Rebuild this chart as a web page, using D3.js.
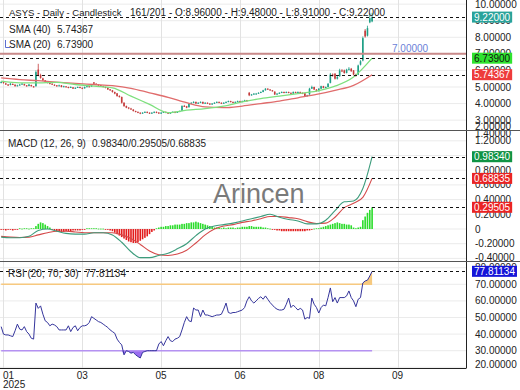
<!DOCTYPE html>
<html>
<head>
<meta charset="utf-8">
<script src="https://cdn.jsdelivr.net/npm/d3@7"></script>
<style>
body { margin: 0; background: #fff; }
svg { display: block; font-family: "Liberation Sans", Arial, sans-serif; }
</style>
</head>
<body>
<div id="chart"></div>
<script>
const W = 520, H = 390;
const plotW = 466;

// --- Data ---
const tickDays = [1, 35, 69, 103, 137, 171];
const tickLabels = ["01", "03", "05", "06", "08", "09"];
const priceTicks = [2, 3, 4, 5, 6, 7, 8, 9, 10];
const macdTicks = [-0.4, -0.2, 0, 0.2, 0.4, 0.6, 0.8, 1.0, 1.2, 1.4];
const rsiTicks = [20, 30, 40, 50, 60, 70, 80];

// daily candles [open, high, low, close]
const ohlc = [
  [5.25,5.35,5.22,5.30],[5.30,5.32,5.20,5.25],[5.22,5.26,5.12,5.15],[5.15,5.18,5.06,5.10],[5.12,5.24,5.10,5.20],
  [5.18,5.22,5.12,5.15],[5.14,5.16,5.02,5.05],[5.06,5.14,5.04,5.10],[5.10,5.18,5.08,5.15],[5.16,5.24,5.14,5.20],
  [5.18,5.20,5.08,5.10],[5.10,5.12,5.02,5.05],[5.06,5.18,5.04,5.15],[5.12,5.14,5.02,5.05],[5.04,5.06,4.96,5.00],
  [5.05,6.00,5.02,5.90],[6.05,6.40,5.65,5.70],[5.72,5.80,5.50,5.55],[5.52,5.56,5.36,5.40],[5.40,5.42,5.26,5.30],
  [5.30,5.34,5.22,5.25],[5.24,5.28,5.16,5.20],[5.20,5.22,5.12,5.15],[5.14,5.16,5.06,5.10],[5.10,5.12,5.02,5.05],
  [5.05,5.14,5.04,5.10],[5.10,5.12,4.98,5.00],[5.00,5.08,4.98,5.05],[5.04,5.06,4.97,5.00],[5.00,5.02,4.92,4.95],
  [4.96,5.04,4.94,5.00],[4.98,5.00,4.88,4.90],[4.90,4.98,4.88,4.95],[4.96,5.03,4.94,5.00],[5.00,5.02,4.92,4.95],
  [4.95,4.97,4.87,4.90],[4.92,5.03,4.90,5.00],[5.00,5.08,4.98,5.05],[5.05,5.07,4.97,5.00],[5.02,5.13,5.00,5.10],
  [5.28,5.30,5.15,5.20],[5.20,5.22,5.12,5.15],[5.15,5.17,5.07,5.10],[5.10,5.12,5.02,5.05],[5.06,5.08,4.97,5.00],
  [5.00,5.02,4.92,4.95],[4.95,4.97,4.82,4.85],[4.86,4.88,4.76,4.80],[4.80,4.82,4.66,4.70],[4.70,4.72,4.56,4.60],
  [4.62,4.64,4.42,4.45],[4.46,4.50,4.36,4.40],[4.40,4.42,4.00,4.05],[4.05,4.08,3.80,3.85],[3.85,3.88,3.72,3.75],
  [3.76,3.78,3.66,3.70],[3.70,3.74,3.62,3.65],[3.64,3.66,3.52,3.55],[3.55,3.57,3.47,3.50],[3.50,3.52,3.42,3.45],
  [3.45,3.47,3.36,3.40],[3.40,3.48,3.38,3.45],[3.45,3.53,3.43,3.50],[3.50,3.52,3.42,3.45],[3.45,3.47,3.37,3.40],
  [3.40,3.48,3.38,3.45],[3.44,3.53,3.42,3.50],[3.50,3.52,3.42,3.45],[3.46,3.48,3.37,3.40],[3.40,3.48,3.38,3.45],
  [3.45,3.53,3.43,3.50],[3.50,3.52,3.42,3.45],[3.45,3.47,3.37,3.40],[3.40,3.48,3.38,3.45],[3.45,3.53,3.43,3.50],
  [3.50,3.52,3.42,3.45],[3.45,3.53,3.43,3.50],[3.50,3.58,3.48,3.55],[3.56,3.90,3.54,3.85],[3.86,3.92,3.80,3.85],
  [3.84,3.86,3.72,3.75],[3.78,4.04,3.76,4.00],[4.00,4.08,3.98,4.05],[4.05,4.14,4.02,4.10],[4.10,4.12,3.97,4.00],
  [4.00,4.08,3.98,4.05],[4.05,4.13,4.03,4.10],[4.10,4.12,3.97,4.00],[4.00,4.08,3.98,4.05],[4.05,4.07,3.97,4.00],
  [4.00,4.02,3.92,3.95],[3.95,4.03,3.93,4.00],[4.00,4.08,3.98,4.05],[4.05,4.13,4.03,4.10],[4.10,4.12,4.02,4.05],
  [4.05,4.07,3.97,4.00],[4.00,4.08,3.98,4.05],[4.05,4.13,4.03,4.10],[4.10,4.18,4.08,4.15],[4.15,4.17,4.07,4.10],
  [4.10,4.12,4.02,4.05],[4.05,4.13,4.03,4.10],[4.10,4.18,4.08,4.15],[4.15,4.17,4.07,4.10],[4.10,4.18,4.08,4.15],
  [4.15,4.23,4.13,4.20],[4.20,4.22,4.12,4.15],[4.65,4.70,4.45,4.50],[4.50,4.58,4.48,4.55],[4.55,4.63,4.53,4.60],
  [4.60,4.64,4.56,4.60],[4.60,4.68,4.58,4.65],[4.65,4.73,4.63,4.70],[4.70,4.83,4.68,4.80],[4.80,4.93,4.78,4.90],
  [4.90,4.92,4.82,4.85],[4.85,4.87,4.77,4.80],[4.80,4.82,4.72,4.75],[4.72,4.74,4.52,4.55],[4.55,4.63,4.53,4.60],
  [4.60,4.68,4.58,4.65],[4.65,4.73,4.63,4.70],[4.70,4.72,4.62,4.65],[4.65,4.73,4.63,4.70],[4.70,4.72,4.62,4.65],
  [4.65,4.67,4.57,4.60],[4.60,4.73,4.58,4.70],[4.70,4.72,4.62,4.65],[4.65,4.73,4.63,4.70],[4.70,4.72,4.62,4.65],
  [4.65,4.67,4.57,4.60],[4.62,4.64,4.42,4.45],[4.45,4.53,4.43,4.50],[4.55,4.95,4.53,4.90],[4.90,5.08,4.88,5.00],
  [5.00,5.02,4.82,4.85],[4.85,4.87,4.72,4.75],[4.75,4.93,4.73,4.90],[4.90,5.08,4.88,5.05],[5.05,5.07,4.92,4.95],
  [4.95,5.03,4.93,5.00],[5.00,5.23,4.98,5.20],[5.25,5.85,5.22,5.75],[5.75,5.82,5.62,5.70],[5.80,5.84,5.45,5.50],
  [5.50,5.68,5.45,5.60],[5.65,6.10,5.62,6.00],[6.00,6.08,5.90,5.95],[6.00,6.05,5.80,5.85],[5.85,6.10,5.82,6.05],
  [6.05,6.20,6.00,6.10],[6.10,6.15,5.92,5.95],[6.00,6.02,5.70,5.75],[5.75,5.80,5.62,5.70],[5.75,6.35,5.72,6.30],
  [6.35,6.62,6.30,6.55],[6.60,8.05,6.55,7.95],[8.40,8.50,7.98,8.05],[8.10,8.70,8.05,8.55],[8.90,9.45,8.85,9.15],
  [8.96,9.48,8.91,9.22]
];

// moving averages, sampled every 8 sessions
const smaDays = [0, 8, 16, 24, 32, 40, 48, 56, 64, 72, 80, 88, 96, 104, 112, 120, 128, 136, 144, 152, 160];
const sma20 = [5.35, 5.25, 5.25, 5.28, 5.15, 5.05, 4.95, 4.45, 3.95, 3.45, 3.6, 3.7, 3.85, 4.1, 4.3, 4.45, 4.6, 4.75, 5.05, 5.6, 6.739];
const sma40 = [5.55, 5.45, 5.38, 5.3, 5.22, 5.15, 5.08, 4.92, 4.65, 4.38, 4.05, 3.8, 3.75, 3.85, 4.0, 4.15, 4.35, 4.55, 4.8, 5.1, 5.74367];

// MACD (12, 26, 9), sampled every 4 sessions
const macdDays = [0, 4, 8, 12, 16, 20, 24, 28, 32, 36, 40, 44, 48, 52, 56, 60, 64, 68, 72, 76, 80,
  84, 88, 92, 96, 100, 104, 108, 112, 116, 120, 124, 128, 132, 136, 140, 144, 148, 152, 156, 160];
const macdLine = [-0.11, -0.12, -0.12, -0.10, -0.02, 0.00, -0.03, -0.06, -0.07, -0.07, -0.05, -0.05, -0.08, -0.18,
  -0.31, -0.39, -0.39, -0.36, -0.33, -0.27, -0.20, -0.09, 0.00, 0.04, 0.06, 0.08, 0.11, 0.14, 0.17, 0.20, 0.16,
  0.13, 0.11, 0.07, 0.07, 0.12, 0.25, 0.37, 0.38, 0.55, 0.9834];
const signalLine = [-0.10, -0.11, -0.115, -0.11, -0.08, -0.05, -0.03, -0.03, -0.04, -0.05, -0.05, -0.05, -0.05, -0.08,
  -0.13, -0.21, -0.30, -0.35, -0.36, -0.34, -0.29, -0.19, -0.08, 0.00, 0.04, 0.06, 0.09, 0.11, 0.14, 0.17, 0.17,
  0.155, 0.14, 0.10, 0.075, 0.08, 0.16, 0.29, 0.35, 0.43, 0.68835];
const histogram = [
  -0.01, -0.01, -0.02, -0.01, -0.01, -0.02, -0.01, -0.01,
  0.01, 0.005, 0.01, 0.01, 0.005, 0.01, 0.01,
  0.04, 0.07, 0.09, 0.08, 0.06, 0.04, 0.02,
  -0.01, -0.02, -0.03, -0.04, -0.04, -0.04, -0.03, -0.03, -0.03, -0.02, -0.02, -0.02, -0.02, -0.01, -0.01,
  0.01, 0.01, 0.01, 0.01, 0.01, 0.005, 0.005, 0.005,
  -0.01, -0.01, -0.02,
  -0.03, -0.05, -0.07, -0.09, -0.11, -0.13, -0.15, -0.17, -0.18, -0.19, -0.19, -0.18, -0.16, -0.14, -0.12, -0.10, -0.07, -0.04, -0.02,
  0.01, 0.02, 0.03, 0.03,
  0.04, 0.04, 0.05, 0.05, 0.06, 0.06, 0.06, 0.07, 0.07, 0.08, 0.08, 0.09, 0.09, 0.10, 0.09, 0.08, 0.07, 0.06, 0.05, 0.04, 0.03, 0.02,
  0.02, 0.02, 0.01, 0.02, 0.01, 0.02, 0.02, 0.02, 0.01, 0.02, 0.02, 0.03, 0.03, 0.03, 0.04, 0.04,
  0.03, 0.03, 0.03, 0.03, 0.02, 0.02, 0.01, 0.005, -0.01, -0.01,
  -0.02, -0.02, -0.03, -0.03, -0.03, -0.03, -0.03, -0.03, -0.03, -0.03, -0.03, -0.03, -0.03, -0.02, -0.02, -0.01,
  0.005, 0.01, 0.01, 0.02, 0.03, 0.04, 0.05, 0.06, 0.07, 0.08, 0.09, 0.08, 0.07, 0.07, 0.06, 0.06, 0.05,
  0.02, 0.01, 0.02, 0.03,
  0.12, 0.17, 0.22, 0.26, 0.29505
];

// RSI (20; 70; 30), one value per session
const rsi = [
  44.5, 40, 39.5, 39.5, 39, 38.5, 42, 46, 43, 42.5, 44.5, 41.5, 40, 37.5, 37,
  58.7, 55.5, 57, 52, 48, 47, 45, 46, 45.5, 44.5, 42.5, 42.5, 42.5, 42.5, 45,
  41.5, 44, 45, 42, 44, 45, 45, 45.5, 47, 50.5, 49.5, 48.5, 47.5, 47, 46,
  45, 44, 42.5, 41.5, 40.5, 37, 35, 33.5, 27.5, 30, 29.5, 28.5, 29, 27.5, 26.5,
  25.6, 29, 29.5, 30, 30, 30, 30, 30, 34, 35.5, 33, 36, 38.5, 36, 35.5,
  37, 37.5, 38.5, 42.5, 47, 50.5, 48, 47.5, 55.7, 54.5, 54.5, 50.5, 54.5, 51.5, 51.5,
  51, 50.5, 51, 51.5, 51.5, 52, 55, 58.7, 53, 52.5, 53, 53, 53.5, 54, 54.5,
  56, 60, 62.5, 60, 58.7, 60, 61.5, 62.5, 61, 63, 61, 59, 57.5, 56, 55,
  54.5, 54.5, 55, 58, 61.7, 56, 57.5, 56, 54.5, 55.5, 54.5, 49, 50, 49.5, 61.7,
  58, 56, 52.7, 56, 57.5, 57, 62, 67.8, 59.5, 62, 58.7, 62, 62, 62, 63,
  66, 62, 60, 56.5, 61, 62, 70.8, 72, 72.5, 75, 77.81134
];

// --- Scales ---
const x = d3.scaleLinear().domain([-0.5, 200.5]).range([0, plotW]);
const yP = d3.scaleLinear().domain([5, 8]).range([87, 37.3]);
const yM = d3.scaleLinear().domain([0, 1]).range([229, 155.5]);
const yR = d3.scaleLinear().domain([30, 70]).range([350.7, 284.3]);

const panels = [
  { id: "price", top: 0, bottom: 130, y: yP, ticks: priceTicks, fmt: d => d.toFixed(5) },
  { id: "macd", top: 131, bottom: 261, y: yM, ticks: macdTicks, fmt: d => d === 0 ? "0" : d.toFixed(5) },
  { id: "rsi", top: 262, bottom: 368, y: yR, ticks: rsiTicks, fmt: d => d.toFixed(5) }
];

const svg = d3.select("#chart").append("svg")
    .attr("width", W)
    .attr("height", H);
svg.append("rect").attr("width", W).attr("height", H).attr("fill", "#fff");

const defs = svg.append("defs");
panels.forEach(p => {
  defs.append("clipPath").attr("id", "clip-" + p.id)
    .append("rect").attr("x", 0).attr("y", p.top).attr("width", plotW).attr("height", p.bottom - p.top);
});
defs.append("clipPath").attr("id", "clip-rsi-axis")
  .append("rect").attr("x", plotW).attr("y", 262).attr("width", W - plotW).attr("height", 106);

const panelG = {};
panels.forEach(p => {
  const g = svg.append("g").attr("clip-path", `url(#clip-${p.id})`);
  // grid
  g.selectAll("line.h").data(p.ticks).join("line")
    .attr("x1", 0).attr("x2", plotW)
    .attr("y1", d => p.y(d)).attr("y2", d => p.y(d))
    .attr("stroke", "#ebebeb");
  g.selectAll("line.v").data(tickDays).join("line")
    .attr("x1", d => Math.round(x(d)) + 0.5).attr("x2", d => Math.round(x(d)) + 0.5)
    .attr("y1", p.top).attr("y2", p.bottom)
    .attr("stroke", "#e2e2e2");
  panelG[p.id] = g;
});

const dashed = (g, y) => g.append("line")
  .attr("x1", 0).attr("x2", plotW).attr("y1", y).attr("y2", y)
  .attr("stroke", "#111").attr("stroke-dasharray", "3,3");

// --- Price panel ---
const pg = panelG.price;
const up = "#1e9f86", down = "#c43b3b";
const candles = pg.append("g").selectAll("g").data(ohlc).join("g");
candles.append("line")
  .attr("x1", (d, i) => x(i)).attr("x2", (d, i) => x(i))
  .attr("y1", d => yP(d[1])).attr("y2", d => yP(d[2]))
  .attr("stroke", d => d[3] >= d[0] ? up : down).attr("stroke-width", 0.8);
candles.append("rect")
  .attr("x", (d, i) => x(i) - 0.8).attr("width", 1.6)
  .attr("y", d => yP(Math.max(d[0], d[3])))
  .attr("height", d => Math.max(1, Math.abs(yP(d[0]) - yP(d[3]))))
  .attr("fill", d => d[3] >= d[0] ? up : down);

const smaLine = d3.line().x(d => x(d[0])).y(d => yP(d[1])).curve(d3.curveMonotoneX);
pg.append("path").datum(smaDays.map((d, i) => [d, sma40[i]]))
  .attr("d", smaLine).attr("fill", "none").attr("stroke", "#e06c6c").attr("stroke-width", 1.3);
pg.append("path").datum(smaDays.map((d, i) => [d, sma20[i]]))
  .attr("d", smaLine).attr("fill", "none").attr("stroke", "#7ee07e").attr("stroke-width", 1.3);

pg.append("line").attr("x1", 0).attr("x2", plotW).attr("y1", yP(7)).attr("y2", yP(7))
  .attr("stroke", "#c98a8a").attr("stroke-width", 2);
pg.append("text").attr("x", 392).attr("y", 52).attr("font-size", 10).attr("fill", "#6b7fd7").text("7.00000");

[9.22, 6.739, 5.74367].forEach(v => dashed(pg, Math.round(yP(v)) + 0.5));

// --- MACD panel ---
const mg = panelG.macd;
mg.append("text").attr("x", 213).attr("y", 203).attr("font-size", 27).attr("fill", "#7a7a7a").text("Arincen");
mg.selectAll("rect.hist").data(histogram).join("rect")
  .attr("x", (d, i) => x(i) - 0.8).attr("width", 1.6)
  .attr("y", d => yM(Math.max(0, d)))
  .attr("height", d => Math.max(0.8, Math.abs(yM(d) - yM(0))))
  .attr("fill", d => d >= 0 ? "#2bdc2b" : "#e31c1c");
const mLine = d3.line().x(d => x(d[0])).y(d => yM(d[1])).curve(d3.curveMonotoneX);
mg.append("path").datum(macdDays.map((d, i) => [d, signalLine[i]]))
  .attr("d", mLine).attr("fill", "none").attr("stroke", "#d44a4a").attr("stroke-width", 1.1);
mg.append("path").datum(macdDays.map((d, i) => [d, macdLine[i]]))
  .attr("d", mLine).attr("fill", "none").attr("stroke", "#3d9c7c").attr("stroke-width", 1.1);
[0.9834, 0.68835, 0.29505].forEach(v => dashed(mg, Math.round(yM(v)) + 0.5));

// --- RSI panel ---
const rg = panelG.rsi;
const lastDay = rsi.length - 1;
rg.append("path").datum(rsi)
  .attr("d", d3.area().x((d, i) => x(i)).y0(yR(70)).y1(d => yR(Math.max(d, 70))))
  .attr("fill", "#f6c97f");
rg.append("path").datum(rsi)
  .attr("d", d3.area().x((d, i) => x(i)).y0(yR(30)).y1(d => yR(Math.min(d, 30))))
  .attr("fill", "#9a6cf0");
rg.append("line").attr("x1", x(0)).attr("x2", x(lastDay)).attr("y1", yR(70)).attr("y2", yR(70))
  .attr("stroke", "#f7c980").attr("stroke-width", 1.5);
rg.append("line").attr("x1", x(0)).attr("x2", x(lastDay)).attr("y1", yR(30)).attr("y2", yR(30))
  .attr("stroke", "#b592f2").attr("stroke-width", 1.5);
rg.append("path").datum(rsi)
  .attr("d", d3.line().x((d, i) => x(i)).y(d => yR(d)))
  .attr("fill", "none").attr("stroke", "#35359c").attr("stroke-width", 1);
dashed(rg, Math.round(yR(77.81134)) + 0.5);

// --- Titles ---
const txt = (x0, y0, s, size = 10) => svg.append("text")
  .attr("x", x0).attr("y", y0).attr("font-size", size).attr("fill", "#222").text(s);
txt(9, 16, "ASYS - Daily - Candlestick", 9.5);
txt(130, 16, "161/201 - O:8.96000 - H:9.48000 - L:8.91000 - C:9.22000");
txt(9, 33.3, "SMA (40)");
txt(57, 33.3, "5.74367");
txt(9, 48.3, "SMA (20)");
txt(57, 48.3, "6.73900");
svg.append("path").attr("d", "M5.5,40 V47.5 H10").attr("fill", "none").attr("stroke", "#5d6fd0").attr("stroke-width", 1);
txt(8, 146.7, "MACD (12, 26, 9)");
txt(92, 146.7, "0.98340/0.29505/0.68835");
txt(8, 277, "RSI (20; 70; 30)");
txt(85, 277, "77.81134");

// --- Right axes ---
panels.forEach(p => {
  const g = svg.append("g");
  if (p.id === "rsi") g.attr("clip-path", "url(#clip-rsi-axis)");
  g.selectAll("text").data(p.ticks).join("text")
    .attr("x", 475)
    .attr("y", d => Math.min(Math.max(p.y(d), p.top + 2), p.bottom - 4))
    .attr("dy", "0.35em")
    .attr("font-size", 10).attr("fill", "#222")
    .text(p.fmt);
});

function valueBox(y, s, bg, fg) {
  const g = svg.append("g");
  const t = g.append("text").attr("x", 474).attr("y", y).attr("dy", "0.35em")
    .attr("font-size", 10).attr("fill", fg).text(s);
  const w = t.node().getComputedTextLength();
  g.insert("rect", "text").attr("x", 472).attr("y", y - 5.5).attr("width", w + 4).attr("height", 11).attr("fill", bg);
}
valueBox(yP(9.22), "9.22000", "#2aa39a", "#fff");
valueBox(yP(6.739), "6.73900", "#2fe32f", "#111");
valueBox(yP(5.74367), "5.74367", "#ee3b3b", "#fff");
valueBox(yM(0.9834), "0.98340", "#109444", "#fff");
valueBox(yM(0.68835), "0.68835", "#ea2424", "#fff");
valueBox(yM(0.29505), "0.29505", "#ea2424", "#fff");
valueBox(yR(77.81134), "77.81134", "#1414d8", "#fff");

// --- Frame ---
svg.append("line").attr("x1", plotW + 0.5).attr("x2", plotW + 0.5).attr("y1", 0).attr("y2", 368.5).attr("stroke", "#222");
[130.5, 261.5].forEach(y => svg.append("line").attr("x1", 0).attr("x2", W).attr("y1", y).attr("y2", y).attr("stroke", "#555"));
svg.append("line").attr("x1", 0).attr("x2", plotW).attr("y1", 368.5).attr("y2", 368.5).attr("stroke", "#222");

// --- Time axis ---
svg.selectAll("text.xt").data(tickDays).join("text")
  .attr("x", (d, i) => i === 0 ? 3 : x(d))
  .attr("y", 378.5)
  .attr("text-anchor", (d, i) => i === 0 ? "start" : "middle")
  .attr("font-size", 10).attr("fill", "#222")
  .text((d, i) => tickLabels[i]);
txt(3, 388, "2025");
</script>
</body>
</html>
